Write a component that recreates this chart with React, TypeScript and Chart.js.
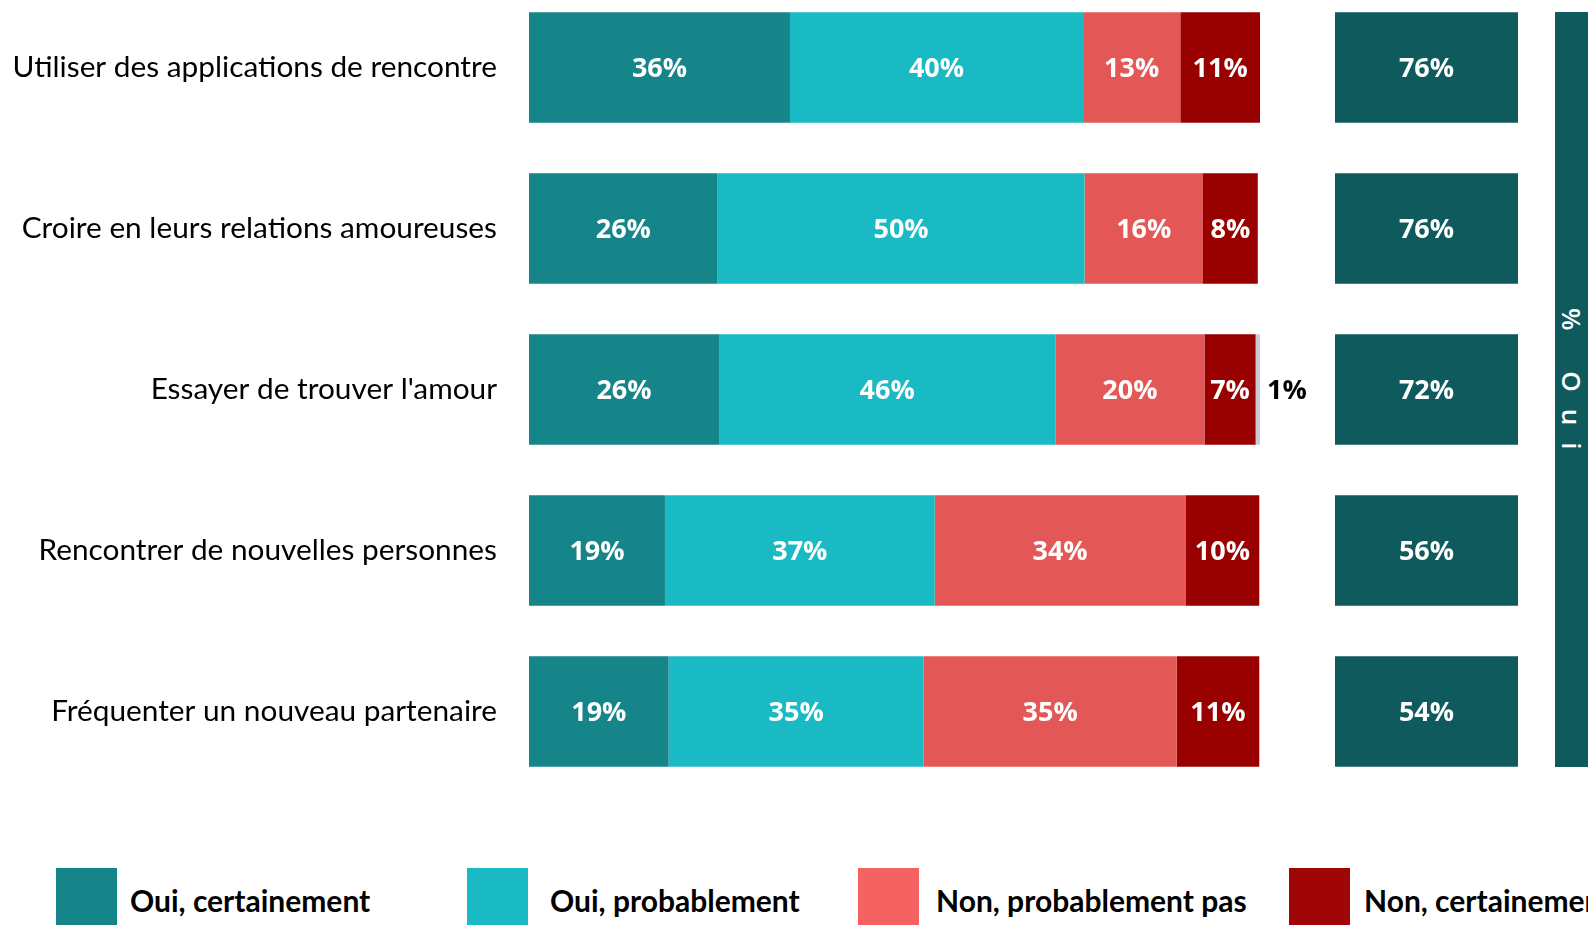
import React, { useEffect, useRef } from "react";
import { Chart, registerables } from "chart.js";

Chart.register(...registerables);

// ---------- Data ----------
const categories = [
  "Utiliser des applications de rencontre",
  "Croire en leurs relations amoureuses",
  "Essayer de trouver l'amour",
  "Rencontrer de nouvelles personnes",
  "Fréquenter un nouveau partenaire",
];

const seriesNames = [
  "Oui, certainement",
  "Oui, probablement",
  "Non, probablement pas",
  "Non, certainement pas",
  "Ne sait pas",
];

const ouiCertainement = [35.7, 25.8, 26.0, 18.6, 19.1];
const ouiProbablement = [40.1, 50.2, 46.0, 36.9, 34.9];
const nonProbablementPas = [13.3, 16.2, 20.4, 34.3, 34.6];
const nonCertainementPas = [10.9, 7.5, 7.0, 10.1, 11.3];
const neSaitPas = [0, 0, 0.6, 0, 0];

const ouiTotals = [76, 76, 72, 56, 54];
const ouiTitle = "% Oui";

// ---------- Styles ----------
const barColors = ["#158589", "#1ABAC4", "#E45757", "#990000", "#C9CDD3"];
const legendColors = ["#158589", "#1ABAC4", "#F46262", "#A00606"];
const columnColor = "#0E5A5C";
const labelFont = "'Open Sans', sans-serif";
const textFont = "Lato, 'Open Sans', sans-serif";

const barLabelsPlugin = {
  id: "barLabels",
  afterDatasetsDraw(chart: any) {
    const ctx = chart.ctx;
    ctx.save();
    ctx.font = `bold 27px ${labelFont}`;
    ctx.textBaseline = "middle";
    chart.data.datasets.forEach((ds: any, di: number) => {
      const meta = chart.getDatasetMeta(di);
      if (meta.hidden) return;
      meta.data.forEach((bar: any, i: number) => {
        const v = ds.data[i];
        if (!v) return;
        const { x, base, y } = bar.getProps(["x", "base", "y"], true);
        const txt = (ds.labelValues ? ds.labelValues[i] : Math.round(v)) + "%";
        if (ds.labelOutside) {
          ctx.fillStyle = "#000000";
          ctx.textAlign = "left";
          ctx.fillText(txt, Math.max(x, base) + 7, y + 2);
        } else {
          ctx.fillStyle = "#FFFFFF";
          ctx.textAlign = "center";
          ctx.fillText(txt, (x + base) / 2, y + 2);
        }
      });
    });
    ctx.restore();
  },
};

const BAND_TOP = -13;
const PLOT_H = 805;
const CAT_PCT = 0.686;

function MainChart() {
  const ref = useRef<HTMLCanvasElement | null>(null);
  useEffect(() => {
    if (!ref.current) return;
    const seriesValues = [ouiCertainement, ouiProbablement, nonProbablementPas, nonCertainementPas, neSaitPas];
    const chart = new Chart(ref.current, {
      type: "bar",
      data: {
        labels: categories,
        datasets: seriesValues.map((vals, k) => ({
          label: seriesNames[k],
          data: vals,
          backgroundColor: barColors[k],
          borderWidth: 0,
          categoryPercentage: CAT_PCT,
          barPercentage: 1,
          labelOutside: k === 4,
        })) as any,
      },
      options: {
        indexAxis: "y",
        responsive: false,
        animation: false,
        layout: { padding: { left: 0, right: 60, top: 0, bottom: 0 } },
        plugins: { legend: { display: false }, tooltip: { enabled: false } },
        scales: {
          x: { stacked: true, min: 0, max: 100, display: false },
          y: {
            stacked: true,
            grid: { display: false, drawTicks: false },
            border: { display: false },
            ticks: {
              color: "#000000",
              padding: 32,
              font: { family: textFont, size: 29.8 },
            },
            afterFit: (scale: any) => {
              scale.width = 529;
              scale.paddingTop = 0;
              scale.paddingBottom = 0;
            },
          },
        },
      } as any,
      plugins: [barLabelsPlugin],
    });
    return () => chart.destroy();
  }, []);
  return (
    <canvas
      ref={ref}
      width={1320}
      height={PLOT_H}
      style={{ position: "absolute", left: 0, top: BAND_TOP, width: 1320, height: PLOT_H }}
    />
  );
}

function OuiChart() {
  const ref = useRef<HTMLCanvasElement | null>(null);
  useEffect(() => {
    if (!ref.current) return;
    const chart = new Chart(ref.current, {
      type: "bar",
      data: {
        labels: categories,
        datasets: [
          {
            label: ouiTitle,
            data: ouiTotals.map(() => 1),
            labelValues: ouiTotals,
            backgroundColor: columnColor,
            borderWidth: 0,
            categoryPercentage: CAT_PCT,
            barPercentage: 1,
          } as any,
        ],
      },
      options: {
        indexAxis: "y",
        responsive: false,
        animation: false,
        layout: { padding: 0 },
        plugins: { legend: { display: false }, tooltip: { enabled: false } },
        scales: {
          x: { min: 0, max: 1, display: false },
          y: { display: false },
        },
      } as any,
      plugins: [barLabelsPlugin],
    });
    return () => chart.destroy();
  }, []);
  return (
    <canvas
      ref={ref}
      width={183}
      height={PLOT_H}
      style={{ position: "absolute", left: 1335, top: BAND_TOP, width: 183, height: PLOT_H }}
    />
  );
}

const legendSquares = [56, 467, 858, 1289];
const legendTexts = [130, 550, 936, 1364];

export default function App() {
  useEffect(() => {
    document.body.style.margin = "0";
    document.body.style.overflow = "hidden";
  }, []);
  return (
    <div
      style={{
        position: "fixed",
        left: 0,
        top: 0,
        width: 1588,
        height: 925,
        overflow: "hidden",
        background: "#FFFFFF",
      }}
    >
      <MainChart />
      <OuiChart />
      <div
        style={{
          position: "absolute",
          left: 1555,
          top: 12,
          width: 33,
          height: 755,
          background: columnColor,
        }}
      >
        <div
          style={{
            position: "absolute",
            top: 296,
            left: 0,
            width: 33,
            display: "flex",
            justifyContent: "center",
          }}
        >
          <span
            style={{
              writingMode: "vertical-rl",
              color: "#FFFFFF",
              fontFamily: labelFont,
              fontWeight: 600,
              fontSize: 26,
              letterSpacing: 17,
              lineHeight: "33px",
              whiteSpace: "pre",
            }}
          >
            {ouiTitle}
          </span>
        </div>
      </div>
      {seriesNames.slice(0, 4).map((name, k) => (
        <React.Fragment key={name}>
          <div
            style={{
              position: "absolute",
              left: legendSquares[k],
              top: 868,
              width: 61,
              height: 70,
              background: legendColors[k],
            }}
          />
          <div
            style={{
              position: "absolute",
              left: legendTexts[k],
              top: 880,
              height: 40,
              lineHeight: "40px",
              fontFamily: textFont,
              fontWeight: 700,
              fontSize: 30,
              color: "#000000",
              whiteSpace: "nowrap",
            }}
          >
            {name}
          </div>
        </React.Fragment>
      ))}
    </div>
  );
}
